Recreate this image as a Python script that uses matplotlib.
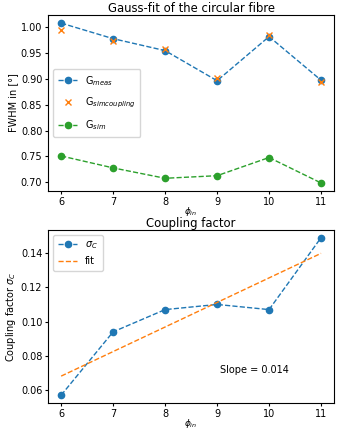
import numpy as np
import matplotlib
matplotlib.use("Agg")
import matplotlib.pyplot as plt

# phi_in values
phi = [6, 7, 8, 9, 10, 11]

# FWHM values
g_meas = [1.007, 0.977, 0.954, 0.896, 0.981, 0.897]
g_simcoupling = [0.994, 0.972, 0.957, 0.902, 0.985, 0.894]
g_sim = [0.751, 0.728, 0.708, 0.713, 0.748, 0.699]

# coupling factor
sigma_c = [0.057, 0.094, 0.107, 0.110, 0.107, 0.149]

plt.rcParams['font.size'] = 7
plt.rcParams['xtick.major.size'] = 2.2
plt.rcParams['ytick.major.size'] = 2.2
plt.rcParams['xtick.major.pad'] = 2
plt.rcParams['ytick.major.pad'] = 2

fig = plt.figure(figsize=(3.44, 4.32), dpi=100)

#Top plot
ax1 = fig.add_axes([0.14, 0.558, 0.831, 0.407])
ax1.plot(phi, g_meas, '--o', color='C0', markersize=4.5, linewidth=1, label=r'G$_{meas}$')
ax1.plot(phi, g_simcoupling, 'x', color='C1', markersize=4.5, label=r'G$_{simcoupling}$')
ax1.plot(phi, g_sim, '--o', color='C2', markersize=4.5, linewidth=1, label=r'G$_{sim}$')
ax1.set_title("Gauss-fit of the circular fibre", pad=2)
ax1.set_ylabel("FWHM in [°]", labelpad=2)
ax1.set_xlabel(r'$\phi_{in}$', labelpad=-1.5, fontsize=6.5)
ax1.set_yticks([0.70, 0.75, 0.80, 0.85, 0.90, 0.95, 1.00])
ax1.legend(loc='center left', labelspacing=0.85, borderpad=0.5)

#Bottom plot
x = np.array(phi)
y = np.array(sigma_c)
b, m = np.polynomial.polynomial.polyfit(x, y, 1)

ax2 = fig.add_axes([0.14, 0.067, 0.831, 0.401])
ax2.plot(x, y, '--o', color='C0', markersize=4.5, linewidth=1, label=r'$\sigma_C$')
ax2.plot(x, b + m * x, '--', color='C1', linewidth=1, label='fit')
ax2.set_title("Coupling factor", pad=1.5)
ax2.set_ylabel(r'Coupling factor $\sigma_C$', labelpad=2)
ax2.set_xlabel(r'$\phi_{in}$', labelpad=-1.5, fontsize=6.5)
ax2.set_yticks([0.06, 0.08, 0.10, 0.12, 0.14])
ax2.text(9.06, 0.072, "Slope = %.3f" % m, va='center')
ax2.legend(loc='upper left', borderpad=0.5)

fig.savefig("out.png", dpi=100)
